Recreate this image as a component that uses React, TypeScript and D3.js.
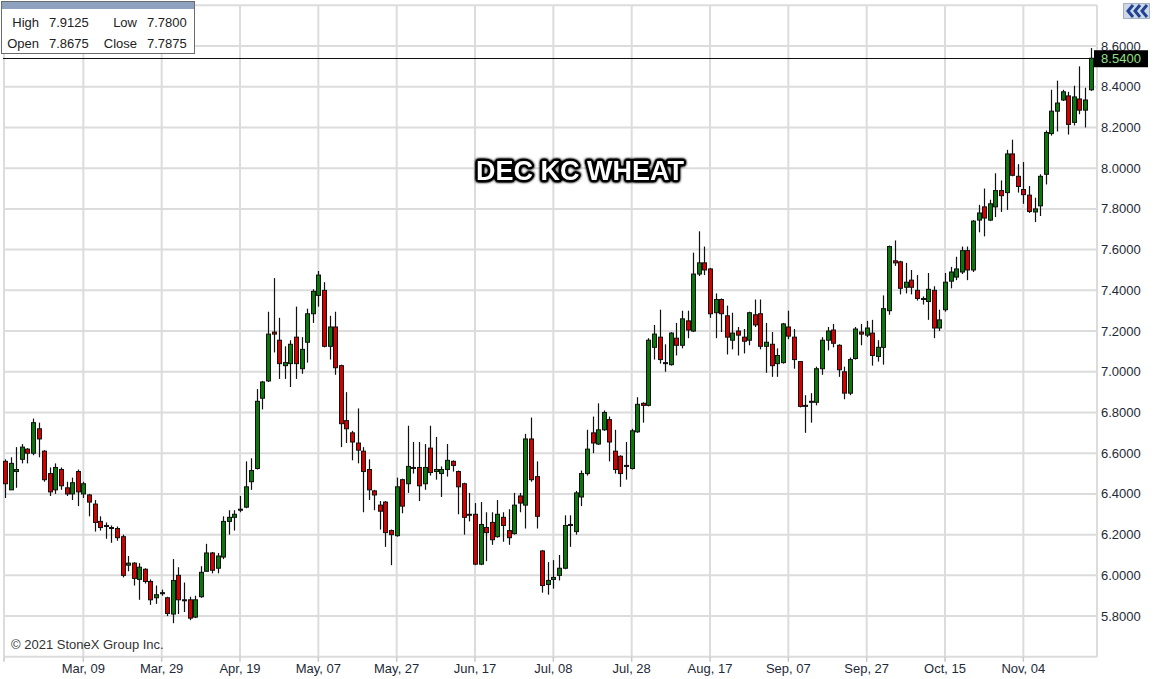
import React from 'react';
import * as d3 from 'd3';

// DEC KC wheat, daily bars (index 0 = first bar on the left)
const opens = [
  6.56, 6.42, 6.51, 6.57, 6.62, 6.60, 6.72, 6.61, 6.50, 6.42, 6.52, 6.43, 6.40, 6.51, 6.40, 6.395, 6.35, 6.265, 6.24, 6.235,
  6.23, 6.19, 6.05, 6.06, 5.98, 6.03, 5.97, 5.89, 5.915, 5.89, 5.81, 6.00, 5.88, 5.88, 5.795, 5.895, 6.02, 6.11, 6.035, 6.09,
  6.265, 6.285, 6.32, 6.335, 6.46, 6.525, 6.87, 6.955, 7.195, 7.155, 7.03, 7.04, 7.17, 7.015, 7.145, 7.285, 7.375, 7.40, 7.125, 7.22,
  7.03, 6.76, 6.70, 6.65, 6.61, 6.52, 6.415, 6.345, 6.36, 6.22, 6.195, 6.47, 6.45, 6.53, 6.53, 6.45, 6.625, 6.51, 6.50, 6.52,
  6.56, 6.51, 6.45, 6.30, 6.30, 6.055, 6.235, 6.26, 6.19, 6.285, 6.22, 6.205, 6.39, 6.345, 6.67, 6.485, 6.12, 5.955, 5.98, 6.00,
  6.035, 6.25, 6.215, 6.385, 6.50, 6.70, 6.645, 6.715, 6.765, 6.61, 6.585, 6.54, 6.525, 6.705, 6.845, 6.835, 7.12, 7.17, 7.04, 7.035,
  7.165, 7.13, 7.25, 7.20, 7.48, 7.535, 7.505, 7.29, 7.355, 7.275, 7.155, 7.20, 7.17, 7.155, 7.28, 7.285, 7.125, 7.135, 7.04, 7.045,
  7.22, 7.17, 7.05, 6.83, 6.85, 6.85, 7.015, 7.155, 7.205, 7.13, 7.00, 6.895, 7.065, 7.195, 7.18, 7.19, 7.075, 7.12, 7.30, 7.545,
  7.54, 7.415, 7.45, 7.40, 7.36, 7.345, 7.40, 7.215, 7.305, 7.445, 7.465, 7.49, 7.595, 7.50, 7.745, 7.81, 7.745, 7.81, 7.89, 7.88,
  8.07, 7.96, 7.895, 7.8675, 7.785, 7.815, 7.97, 8.17, 8.28, 8.335, 8.355, 8.225, 8.34, 8.285, 8.385,
];
const highs = [
  6.57, 6.58, 6.63, 6.645, 6.625, 6.77, 6.75, 6.615, 6.53, 6.55, 6.53, 6.46, 6.48, 6.52, 6.46, 6.40, 6.37, 6.29, 6.26, 6.245,
  6.24, 6.20, 6.095, 6.065, 6.06, 6.035, 5.98, 5.95, 5.93, 5.895, 6.08, 6.04, 5.965, 5.895, 5.90, 6.045, 6.155, 6.115, 6.11, 6.29,
  6.32, 6.32, 6.39, 6.56, 6.575, 6.915, 6.955, 7.295, 7.46, 7.265, 7.125, 7.155, 7.32, 7.17, 7.31, 7.405, 7.495, 7.44, 7.275, 7.295,
  7.035, 6.90, 6.71, 6.82, 6.63, 6.57, 6.42, 6.365, 6.365, 6.225, 6.48, 6.475, 6.735, 6.655, 6.655, 6.645, 6.735, 6.68, 6.535, 6.645,
  6.565, 6.515, 6.455, 6.405, 6.355, 6.36, 6.31, 6.31, 6.37, 6.31, 6.325, 6.405, 6.405, 6.695, 6.775, 6.56, 6.125, 6.065, 6.075, 6.10,
  6.295, 6.295, 6.415, 6.515, 6.715, 6.78, 6.845, 6.81, 6.78, 6.715, 6.59, 6.655, 6.72, 6.875, 6.85, 7.165, 7.23, 7.305, 7.135, 7.195,
  7.24, 7.30, 7.30, 7.585, 7.69, 7.615, 7.51, 7.385, 7.36, 7.325, 7.29, 7.22, 7.21, 7.295, 7.355, 7.355, 7.24, 7.195, 7.115, 7.24,
  7.30, 7.21, 7.05, 6.885, 6.895, 7.025, 7.17, 7.22, 7.235, 7.135, 7.025, 7.07, 7.22, 7.235, 7.25, 7.255, 7.155, 7.375, 7.62, 7.645,
  7.545, 7.535, 7.50, 7.475, 7.37, 7.485, 7.42, 7.305, 7.485, 7.515, 7.565, 7.615, 7.615, 7.745, 7.82, 7.90, 7.845, 7.975, 7.94, 8.09,
  8.14, 8.02, 8.03, 7.9125, 7.855, 7.97, 8.185, 8.385, 8.43, 8.385, 8.375, 8.405, 8.50, 8.395, 8.59,
];
const lows = [
  6.38, 6.42, 6.43, 6.55, 6.55, 6.59, 6.58, 6.46, 6.39, 6.40, 6.42, 6.39, 6.37, 6.34, 6.38, 6.29, 6.215, 6.22, 6.18, 6.16,
  6.17, 5.99, 6.02, 5.95, 5.88, 5.96, 5.855, 5.86, 5.90, 5.80, 5.765, 5.81, 5.82, 5.78, 5.79, 5.89, 6.02, 6.01, 6.01, 6.08,
  6.20, 6.22, 6.31, 6.33, 6.42, 6.52, 6.815, 6.95, 7.095, 6.965, 6.965, 6.925, 6.965, 6.99, 7.045, 7.24, 7.32, 7.12, 7.06, 6.985,
  6.63, 6.65, 6.565, 6.55, 6.31, 6.37, 6.32, 6.225, 6.14, 6.05, 6.19, 6.305, 6.405, 6.50, 6.365, 6.42, 6.49, 6.47, 6.385, 6.485,
  6.51, 6.30, 6.20, 6.265, 6.05, 6.05, 6.07, 6.15, 6.185, 6.165, 6.15, 6.20, 6.31, 6.23, 6.46, 6.23, 5.915, 5.905, 5.935, 5.975,
  6.03, 6.14, 6.20, 6.34, 6.49, 6.60, 6.64, 6.71, 6.56, 6.50, 6.435, 6.47, 6.52, 6.70, 6.75, 6.83, 7.06, 7.04, 7.00, 7.03,
  7.08, 7.115, 7.165, 7.195, 7.47, 7.475, 7.265, 7.165, 7.195, 7.085, 7.11, 7.08, 7.09, 7.13, 7.22, 7.11, 6.995, 6.975, 6.975, 7.04,
  7.16, 7.015, 6.825, 6.70, 6.75, 6.835, 6.985, 7.105, 7.12, 6.975, 6.865, 6.885, 7.06, 7.13, 7.17, 7.03, 7.05, 7.035, 7.28, 7.52,
  7.38, 7.385, 7.38, 7.35, 7.33, 7.255, 7.165, 7.20, 7.295, 7.41, 7.45, 7.48, 7.45, 7.49, 7.685, 7.665, 7.74, 7.76, 7.785, 7.795,
  7.96, 7.88, 7.825, 7.78, 7.735, 7.765, 7.92, 8.16, 8.18, 8.33, 8.165, 8.21, 8.265, 8.20, 8.38,
];
const closes = [
  6.45, 6.55, 6.52, 6.63, 6.60, 6.75, 6.67, 6.47, 6.41, 6.53, 6.44, 6.40, 6.455, 6.41, 6.45, 6.36, 6.26, 6.235, 6.245, 6.23,
  6.185, 6.00, 6.06, 5.985, 6.04, 5.97, 5.88, 5.905, 5.91, 5.813, 5.975, 5.88, 5.875, 5.79, 5.88, 6.015, 6.11, 6.025, 6.095, 6.265,
  6.285, 6.30, 6.325, 6.435, 6.515, 6.855, 6.95, 7.185, 7.185, 7.04, 7.045, 7.135, 7.04, 7.11, 7.285, 7.395, 7.475, 7.125, 7.22, 7.02,
  6.745, 6.72, 6.655, 6.615, 6.51, 6.42, 6.395, 6.315, 6.21, 6.20, 6.435, 6.34, 6.535, 6.525, 6.44, 6.53, 6.505, 6.52, 6.52, 6.565,
  6.54, 6.435, 6.285, 6.295, 6.055, 6.25, 6.21, 6.175, 6.30, 6.245, 6.185, 6.345, 6.355, 6.67, 6.47, 6.29, 5.95, 5.975, 5.99, 6.035,
  6.245, 6.245, 6.405, 6.50, 6.62, 6.65, 6.715, 6.80, 6.655, 6.52, 6.50, 6.535, 6.71, 6.84, 6.835, 7.155, 7.185, 7.06, 7.045, 7.19,
  7.13, 7.26, 7.205, 7.48, 7.535, 7.50, 7.285, 7.355, 7.285, 7.17, 7.19, 7.18, 7.15, 7.29, 7.23, 7.125, 7.145, 7.03, 7.08, 7.235,
  7.175, 7.06, 6.83, 6.835, 6.855, 7.015, 7.155, 7.20, 7.14, 7.01, 6.895, 7.06, 7.21, 7.185, 7.215, 7.08, 7.12, 7.31, 7.615, 7.535,
  7.41, 7.44, 7.415, 7.36, 7.355, 7.405, 7.215, 7.255, 7.44, 7.49, 7.505, 7.595, 7.50, 7.74, 7.78, 7.755, 7.825, 7.89, 7.865, 8.07,
  7.965, 7.91, 7.87, 7.7875, 7.80, 7.96, 8.175, 8.28, 8.32, 8.375, 8.215, 8.35, 8.285, 8.335, 8.54,
];

const tickIndex = [14, 28, 42, 56, 70, 84, 98, 112, 126, 140, 154, 168, 182];
const tickLabels = [
  'Mar, 09', 'Mar, 29', 'Apr, 19', 'May, 07', 'May, 27', 'Jun, 17', 'Jul, 08',
  'Jul, 28', 'Aug, 17', 'Sep, 07', 'Sep, 27', 'Oct, 15', 'Nov, 04',
];
const lastPrice = 8.54;
const infoRows = [
  ['High', '7.9125', 'Low', '7.7800'],
  ['Open', '7.8675', 'Close', '7.7875'],
];

const W = 1153;
const H = 679;
const FONT = '"Liberation Sans", Arial, sans-serif';
const GREEN = '#0b760b';
const RED = '#d30000';
const GRID = '#dcdcdc';
const TEXT = '#1e2a38';

export default function App() {
  const n = closes.length;
  const plotLeft = 4;
  const plotRight = 1097;

  const x = d3.scaleLinear().domain([0, n - 1]).range([5, 1090.5]);
  const y = d3.scaleLinear().domain([5.6, 8.8]).range([656.8, 5.3]);
  const yTicks = y.ticks(16);
  const fmt = d3.format('.4f');
  const bodyW = 4;

  return (
    <div style={{ position: 'absolute', left: 0, top: 0, width: W, height: H, background: '#fff' }}>
      <svg width={W} height={H} style={{ display: 'block', fontFamily: FONT }}>
        <defs>
          <filter id="title-glow" x="-10%" y="-40%" width="120%" height="180%">
            <feGaussianBlur in="SourceAlpha" stdDeviation="1.6" result="blur" />
            <feComponentTransfer in="blur" result="dark">
              <feFuncA type="linear" slope="3" />
            </feComponentTransfer>
            <feMerge>
              <feMergeNode in="dark" />
              <feMergeNode in="SourceGraphic" />
            </feMerge>
          </filter>
        </defs>
        <rect x={0} y={0} width={W} height={H} fill="#fff" />

        {/* grid */}
        {yTicks.map((t) => (
          <line key={'gy' + t} x1={plotLeft} x2={plotRight} y1={y(t)} y2={y(t)} stroke={GRID} strokeWidth={2} />
        ))}
        {tickIndex.map((i) => (
          <line key={'gx' + i} x1={x(i)} x2={x(i)} y1={y(8.8)} y2={y(5.6)} stroke={GRID} strokeWidth={2} />
        ))}
        <line x1={plotLeft} x2={plotLeft} y1={y(8.8)} y2={y(5.6)} stroke={GRID} strokeWidth={2} />
        <line x1={plotRight} x2={plotRight} y1={y(8.8)} y2={y(5.6)} stroke={GRID} strokeWidth={2} />

        {/* bottom ticks */}
        {[0, ...tickIndex].map((i) => (
          <line key={'tk' + i} x1={i === 0 ? plotLeft : x(i)} x2={i === 0 ? plotLeft : x(i)} y1={y(5.6)} y2={y(5.6) + 5} stroke="#c8c8c8" strokeWidth={1.5} />
        ))}

        {/* last price line */}
        <line x1={3} x2={plotRight} y1={Math.round(y(lastPrice)) + 0.5} y2={Math.round(y(lastPrice)) + 0.5} stroke="#111" strokeWidth={1} />

        {/* candles */}
        <g>
          {closes.map((c, i) => {
            const o = opens[i];
            const up = c >= o;
            const cx = Math.round(x(i)) + 0.5;
            const top = y(Math.max(o, c));
            const bot = y(Math.min(o, c));
            const h = Math.max(1, bot - top);
            return (
              <g key={i}>
                <line x1={cx} x2={cx} y1={y(highs[i])} y2={y(lows[i])} stroke="#111" strokeWidth={1.2} />
                <rect x={cx - bodyW / 2} y={top} width={bodyW} height={h} fill={up ? GREEN : RED} stroke="#111" strokeWidth={1} />
              </g>
            );
          })}
        </g>

        {/* right axis labels */}
        {yTicks.filter((t) => t > 5.7 && t < 8.7).map((t) => (
          <text key={'yl' + t} x={1101} y={y(t)} dy="0.35em" fontSize={13} fill={TEXT}>
            {fmt(t)}
          </text>
        ))}

        {/* last price badge */}
        <rect x={1094} y={y(lastPrice) - 8} width={54} height={17} fill="#000" />
        <text x={1121} y={y(lastPrice) + 0.5} dy="0.35em" fontSize={13} textAnchor="middle" fill="#8fe08a">
          {lastPrice.toFixed(4)}
        </text>

        {/* x axis labels */}
        {tickIndex.map((i, k) => (
          <text key={'xl' + i} x={x(i)} y={668} dy="0.35em" fontSize={13} textAnchor="middle" fill={TEXT}>
            {tickLabels[k]}
          </text>
        ))}

        {/* title */}
        <text
          x={580}
          y={171}
          dy="0.35em"
          textAnchor="middle"
          fontSize={27}
          fontWeight="bold"
          fill="#fff"
          stroke="#000"
          strokeWidth={3}
          strokeLinejoin="round"
          filter="url(#title-glow)"
          style={{ paintOrder: 'stroke' }}
        >
          DEC KC WHEAT
        </text>

        {/* copyright */}
        <text x={11} y={644} dy="0.35em" fontSize={13} fill="#333">
          © 2021 StoneX Group Inc.
        </text>

        {/* info box */}
        <rect x={1.5} y={1.5} width={193} height={52} fill="#fff" stroke="#6b6b6b" strokeWidth={1} />
        <rect x={2} y={2} width={192} height={7} fill="#8ea2bf" />
        {infoRows.map((r, k) => (
          <g key={'ir' + k} fontSize={13} fill="#222">
            <text x={39} y={22 + k * 21} dy="0.35em" textAnchor="end">{r[0]}</text>
            <text x={49} y={22 + k * 21} dy="0.35em">{r[1]}</text>
            <text x={137} y={22 + k * 21} dy="0.35em" textAnchor="end">{r[2]}</text>
            <text x={147} y={22 + k * 21} dy="0.35em">{r[3]}</text>
          </g>
        ))}

        {/* collapse icon */}
        <rect x={1123.5} y={3.5} width={26} height={15} fill="#cdd7e6" stroke="#a4b1c5" strokeWidth={1} />
        {[1128, 1135, 1142].map((cx) => (
          <path key={'ch' + cx} d={`M${cx + 5},5 L${cx},11 L${cx + 5},17`} fill="none" stroke="#1f4494" strokeWidth={3} />
        ))}
      </svg>
    </div>
  );
}
